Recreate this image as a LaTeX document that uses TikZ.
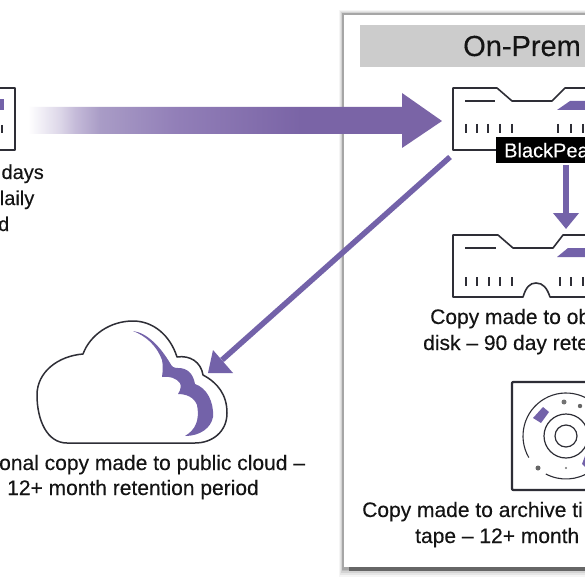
\documentclass[tikz,border=0pt]{standalone}
\usepackage{fontspec}
\setmainfont{Liberation Sans}[FakeBold=0.25]
\usetikzlibrary{arrows.meta}
\definecolor{pur}{HTML}{7362A9}
\definecolor{bigpur}{HTML}{7A64A6}
\definecolor{ink}{HTML}{2E2E36}
\definecolor{shA}{HTML}{DCD6E8}
\definecolor{shB}{HTML}{C5BBD9}
\definecolor{shC}{HTML}{A99CC6}
\definecolor{shD}{HTML}{927FB8}
\pgfdeclarehorizontalshading{bigfade}{100bp}{
  color(0bp)=(white); color(25bp)=(white); color(28.9bp)=(shA); color(30.7bp)=(shB); color(33.7bp)=(shC); color(42.8bp)=(shD); color(58bp)=(bigpur); color(100bp)=(bigpur)}
\tikzset{
  outline/.style={draw=ink,line width=1.6pt,line join=round},
  thin mark/.style={draw=ink,line width=1.3pt},
  caption/.style={inner sep=0pt,font=\fontsize{21}{26}\selectfont,text=black!92},
  purple link/.style={draw=pur,line width=5.5pt,-{Triangle[length=16pt,width=25pt]}},
}
\newcommand{\ticksat}[2]{\foreach \tx in {#1}{\draw[thin mark] (\tx,#2) -- (\tx,#2+9);}}
\begin{document}
\begin{tikzpicture}[x=1pt,y=-1pt]
\useasboundingbox (0,0) rectangle (585,585);
\fill[white] (0,0) rectangle (585,585);
\clip (0,0) rectangle (585,585);
% panel shadow
\foreach \d/\o in {9/0.04,7/0.06,5/0.08,3/0.10,1.5/0.12}{
  \fill[black,opacity=\o] (343-\d*0.5,14-\d*0.4) rectangle (600,568+\d);
}
\fill[black!60] (349,566) rectangle (600,571);
\fill[white] (344,15) rectangle (600,567);
% header
\node[fill=black!20,minimum width=260pt,minimum height=42pt,inner sep=0pt,anchor=north west] (head) at (360,25) {};
\node[inner sep=0pt,anchor=base west,font=\fontsize{29}{32}\selectfont,text=black!92] (headt) at (463,56) {On-Prem};
% left device
\draw[outline] (-5,88) -- (15,88) -- (15,150) -- (-5,150);
\fill[pur] (0,99) rectangle (4,110);
\draw[thin mark] (2,125) -- (2,133);
\node[caption,font=\fontsize{20}{26}\selectfont,anchor=base east] (l1) at (44,179) {days};
\node[caption,font=\fontsize{20}{26}\selectfont,anchor=base east] (l2) at (34.5,205) {laily};
\node[caption,font=\fontsize{20}{26}\selectfont,anchor=base east] (l3) at (9.5,231) {d};
% big arrow
\path[shading=bigfade,shading angle=0] (28,107) -- (402,107) -- (402,93) -- (442,121) -- (402,148) -- (402,134) -- (28,134) -- cycle;
% device 1
\draw[outline] (600,88) -- (565,88) -- (552,101) -- (512,101) -- (497,88) -- (453,88) -- (453,150) -- (500,150);
\draw[thin mark] (465,101) -- (495,101);
\fill[pur] (557,110) -- (570,101) -- (590,101) -- (590,110) -- cycle;
\ticksat{466,477,488,500,512,558,571,583}{124}
\node[fill=black,text=white,anchor=north west,inner sep=0pt,minimum height=26pt,text width=100pt,align=left,font=\fontsize{20}{24}\selectfont] (bp) at (496,137) {\hspace*{8pt}BlackPea};
% device 2
\draw[outline] (600,235) -- (563,235) -- (553,248) -- (513,248) -- (498,235) -- (453,235) -- (453,297) -- (523,297)
  .. controls (526,287) and (530,283) .. (536,283) .. controls (543,283) and (547,288) .. (550,297) -- (600,297);
\draw[thin mark] (465,248) -- (496,248);
\fill[pur] (557,257) -- (568,248) -- (590,248) -- (590,257) -- cycle;
\ticksat{466,477,489,500,512,560,571,583}{277}
\node[coordinate] (dtop) at (566,229) {};
\path[purple link] (bp.south -| dtop) ++(0,2) -- (dtop);
\node[caption,anchor=base west] (c1) at (430,324) {Copy made to ob};
\node[caption,anchor=base west] (c2) at (423,350) {disk – 90 day rete};
% tape
\draw[outline,line width=2.2pt,rounded corners=1pt] (600,382) -- (512,382) -- (512,490) -- (600,490);
\coordinate (tc) at (566,436);
\draw[ink,line width=1.2pt] (tc) circle (11);
\draw[ink,line width=1.2pt] (tc) circle (22);
\draw[ink,line width=1.1pt] (tc) ++(150:43) arc[start angle=150,end angle=365,radius=43];
\draw[ink,line width=1.1pt] (tc) ++(118:43) arc[start angle=118,end angle=55,radius=43];
\fill[pur] (533,418) -- (543,407) -- (549,412) -- (541,423) -- cycle;
\fill[pur] (582,464) -- (585,456) -- (590,458) -- (590,470) -- (586,468) -- cycle;
\fill[black!55] (564,402) circle (2.5);
\fill[black!60] (580,406) circle (2.2);
\fill[black!60] (538,468) circle (2.5);
\fill[black!55] (566,468) circle (1.1);
\node[caption,anchor=base west] (c3) at (362,517) {Copy made to archive ti};
\node[caption,anchor=base west] (c4) at (415,543) {tape – 12+ month r};
% cloud
\draw[ink,line width=1.5pt,line join=round] (67,443)
  .. controls (47,443) and (37,420) .. (37,395)
  .. controls (37,372) and (58,356) .. (83,354)
  .. controls (90,335) and (110,321) .. (133,321)
  .. controls (153,321) and (170,335) .. (177,357)
  .. controls (190,355) and (201,362) .. (203,375)
  .. controls (218,383) and (227,395) .. (227,413)
  .. controls (227,432) and (212,443) .. (195,443) -- cycle;
\fill[pur] (133,331)
  .. controls (148,333) and (161,348) .. (170,363)
  .. controls (172,367) and (174,368) .. (178,368)
  .. controls (187,368) and (193,373) .. (195,384)
  .. controls (207,388) and (214,402) .. (213,417)
  .. controls (211,428) and (200,436) .. (185,436)
  .. controls (195,430) and (200,421) .. (197,405)
  .. controls (194,397) and (186,394) .. (178,394)
  .. controls (181,390) and (181,385) .. (180,383)
  .. controls (176,378) and (170,376) .. (162,377)
  .. controls (163,370) and (163,365) .. (162,360)
  .. controls (157,346) and (146,336) .. (133,331) -- cycle;
\coordinate (cl) at (208,373);
\coordinate (dev) at (450,157);
\draw[pur,line width=5.5pt] (dev) -- (222,360);
\fill[pur] (cl) -- (213,350) -- (233,373) -- cycle;
\node[caption,anchor=base west] (c5) at (-1,470) {onal copy made to public cloud –};
\node[caption,anchor=base west] (c6) at (7,495) {12+ month retention period};
\end{tikzpicture}
\end{document}
